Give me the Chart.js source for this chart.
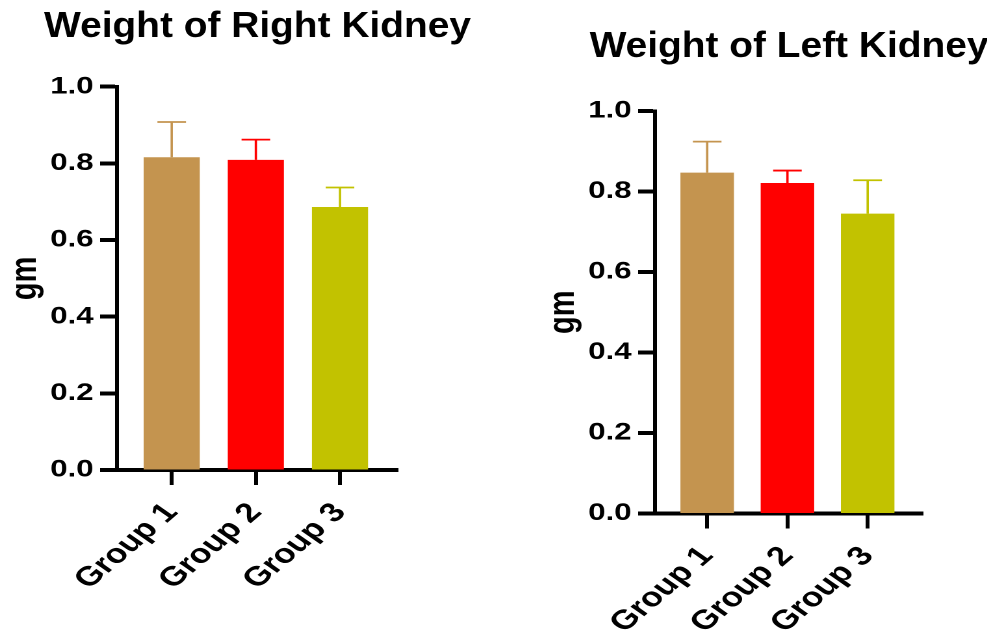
<!DOCTYPE html>
<html>
<head>
<meta charset="utf-8">
<script src="https://cdn.jsdelivr.net/npm/chart.js@4"></script>
<style>
  html, body { margin: 0; padding: 0; background: #fff; overflow: hidden; }
  body { width: 987px; height: 637px; position: relative; }
  /* the reference is stretched sideways, so each chart is drawn narrow and widened */
  .wrap { position: absolute; top: 0; height: 637px; transform: scaleX(1.3); transform-origin: 0 0; }
  #wrapRight { left: 0; width: 400px; }
  #wrapLeft { left: 538px; width: 346px; }
</style>
</head>
<body>
<div class="wrap" id="wrapRight"><canvas id="rightChart"></canvas></div>
<div class="wrap" id="wrapLeft"><canvas id="leftChart"></canvas></div>
<script>
const groups = ['Group 1', 'Group 2', 'Group 3'];
const rightKidney = [0.816, 0.809, 0.686];
const rightKidneyErr = [0.092, 0.053, 0.051];
const leftKidney = [0.847, 0.821, 0.745];
const leftKidneyErr = [0.077, 0.031, 0.083];
const barColors = ['#C4944F', '#FF0000', '#C2C200'];

const STRETCH = 1.3;
Chart.defaults.font.family = '"Liberation Sans", Arial, sans-serif';
Chart.defaults.color = '#000';

// upper error bars with a cap, coloured like their bar
const errorBars = {
  id: 'errorBars',
  afterDatasetsDraw(chart, args, opts) {
    const ctx = chart.ctx;
    const yScale = chart.scales.y;
    chart.data.datasets.forEach((ds, di) => {
      chart.getDatasetMeta(di).data.forEach((bar, i) => {
        const top = yScale.getPixelForValue(ds.data[i].y + ds.errors[i]);
        ctx.save();
        ctx.strokeStyle = ds.backgroundColor[i];
        ctx.lineWidth = opts.lineWidth;
        ctx.beginPath();
        ctx.moveTo(bar.x, bar.y);
        ctx.lineTo(bar.x, top);
        ctx.moveTo(bar.x - opts.capWidth / 2, top);
        ctx.lineTo(bar.x + opts.capWidth / 2, top);
        ctx.stroke();
        ctx.restore();
      });
    });
  }
};

// heading over the plot, un-stretched a bit so it is not too wide
const heading = {
  id: 'heading',
  afterDraw(chart, args, opts) {
    const { ctx, chartArea } = chart;
    ctx.save();
    ctx.translate((chartArea.left + chartArea.right) / 2, opts.baseline);
    ctx.scale(opts.squeeze, 1);
    ctx.font = 'bold 36px "Liberation Sans", Arial, sans-serif';
    ctx.fillStyle = '#000';
    ctx.textAlign = 'center';
    ctx.textBaseline = 'alphabetic';
    ctx.fillText(opts.text, 0, 0);
    ctx.restore();
  }
};

function makeChart(id, values, errors, title, lay) {
  const ctx = document.getElementById(id).getContext('2d');
  return new Chart(ctx, {
    type: 'bar',
    data: {
      datasets: [{
        data: values.map((v, i) => ({ x: i, y: v })),
        errors: errors,
        backgroundColor: barColors,
        borderWidth: 0,
        categoryPercentage: 0.667,
        barPercentage: 1
      }]
    },
    options: {
      responsive: true,
      maintainAspectRatio: false,
      animation: false,
      devicePixelRatio: 2,
      layout: { padding: { top: lay.top, right: lay.right, left: 0, bottom: 0 } },
      scales: {
        x: {
          type: 'linear',
          min: -0.65,
          max: 2.69,
          offset: false,
          afterBuildTicks: (scale) => { scale.ticks = groups.map((g, i) => ({ value: i })); },
          afterFit: (scale) => { scale.height = lay.xHeight; },
          grid: { offset: false, drawOnChartArea: false, color: '#000', tickLength: 15, tickWidth: 3 },
          border: { display: true, color: '#000', width: 4 },
          ticks: {
            autoSkip: false,
            maxRotation: 48,
            minRotation: 48,
            padding: 12,
            font: { size: 27, weight: 'bold' },
            callback: (v) => groups[v]
          }
        },
        y: {
          min: 0,
          max: 1,
          afterFit: (scale) => { scale.width = 90; },
          grid: { drawOnChartArea: false, color: '#000', tickLength: 13, tickWidth: 4 },
          border: { display: true, color: '#000', width: 3 },
          ticks: {
            stepSize: 0.2,
            padding: 5,
            font: { size: 24, weight: 'bold' },
            callback: (v) => v.toFixed(1)
          },
          title: {
            display: true,
            text: 'gm',
            padding: { top: 2, bottom: 0 },
            font: { size: 29, weight: 'bold' }
          }
        }
      },
      plugins: {
        legend: { display: false },
        tooltip: { enabled: false },
        errorBars: { lineWidth: 1.8, capWidth: 22 },
        heading: { text: title, baseline: lay.baseline, squeeze: 1.08 / STRETCH }
      }
    },
    plugins: [errorBars, heading]
  });
}

const rightChart = makeChart('rightChart', rightKidney, rightKidneyErr, 'Weight of Right Kidney',
  { top: 86.7, right: 93.8, xHeight: 167, baseline: 37 });
const leftChart = makeChart('leftChart', leftKidney, leftKidneyErr, 'Weight of Left Kidney',
  { top: 111, right: 49.8, xHeight: 123.5, baseline: 57 });
</script>
</body>
</html>
